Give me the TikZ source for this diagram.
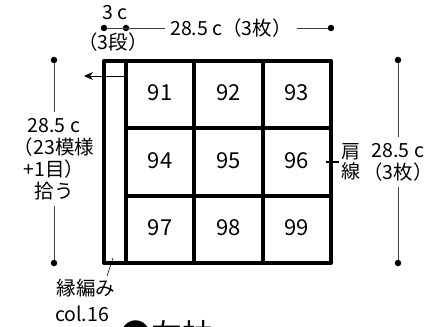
\documentclass[tikz,border=0pt]{standalone}
\usepackage{fontspec}
\setmainfont{Noto Sans CJK JP}
\usetikzlibrary{arrows.meta,calc}

\begin{document}
\begin{tikzpicture}[x=1pt, y=-1pt, line join=round,
    frame/.style={line width=4pt},
    dimline/.style={draw=black!75, line width=0.7pt},
    dimdot/.style={circle, fill=black, inner sep=0pt, minimum size=6.5pt},
    lbl/.style={font=\fontsize{19.5}{22}\selectfont, align=center, inner sep=1pt},
    num/.style={font=\fontsize{22}{24}\selectfont}]
    \useasboundingbox (0,0) rectangle (443,326);
    \coordinate (E0) at (104, 61);
    \coordinate (E1) at (104, 263);
    \coordinate (G0) at (126, 61);
    \coordinate (G1) at (331, 263);
    % grid of motifs
    \draw[frame] (E0) rectangle (G1);
    \foreach \x in {126, 194.3, 262.6}
        \draw[frame] (\x, 61) -- (\x, 263);
    \foreach \y in {128.3, 195.6}
        \draw[frame] (126, \y) -- (331, \y);
    \foreach \r in {0,1,2}
        \foreach \c in {0,1,2} {
            \pgfmathtruncatemacro{\n}{91 + 3*\r + \c}
            \node[num] (c\n) at ({160 + 68.3*\c}, {93 + 67.3*\r}) {\n};
        }
    % width
    \node[dimdot] (t0) at (104, 28) {};
    \node[dimdot] (t1) at (126, 28) {};
    \node[dimdot] (t2) at (331, 28) {};
    \draw[dimline] (t0) -- (t2);
    \node[lbl, fill=white, inner xsep=5pt] (tw) at (231, 28) {28.5 c（3枚）};
    \node[lbl] (tb) at (115, 13) {3 c};
    \node[lbl] (tr) at (113, 42) {（3段）};
    % left side
    \node[dimdot] (l0) at (54, 60) {};
    \node[dimdot] (l1) at (54, 263) {};
    \draw[dimline] (l0) -- (l1);
    \node[lbl, fill=white, inner ysep=6pt] (lw) at (54, 159) {28.5 c\\（23模様\\+1目）\\拾う};
    % right side
    \node[dimdot] (r0) at (398, 60) {};
    \node[dimdot] (r1) at (398, 263) {};
    \draw[dimline] (r0) -- (r1);
    \node[lbl, fill=white, inner ysep=6pt] (rw) at (398, 162) {28.5 c\\（3枚）};
    % shoulder
    \coordinate (s0) at (326, 162);
    \coordinate (s1) at (339, 162);
    \draw[line width=1.6pt] (s0) -- (s1);
    \node[lbl, font=\fontsize{19}{20}\selectfont] (sh) at (351, 162) {肩\\線};
    % direction of edging
    \coordinate (a0) at (126, 76);
    \coordinate (a1) at (84, 76);
    \draw[line width=0.9pt, -{Stealth[length=9pt, width=8pt]}] (a0) -- (a1);
    % edging
    \coordinate (e0) at (113, 258);
    \coordinate (e1) at (107, 276);
    \draw[line width=0.6pt] (e0) -- (e1);
    \node[lbl] (ed) at (86, 288) {縁編み};
    \node[lbl] (co) at (82, 314) {col.16};
    \node[anchor=west, inner sep=0pt, font=\fontsize{31}{33}\selectfont] (tt) at (120, 335)
        {●左袖\,{\fontsize{19.5}{22}\selectfont（カギ針3/0号）}};
\end{tikzpicture}
\end{document}
